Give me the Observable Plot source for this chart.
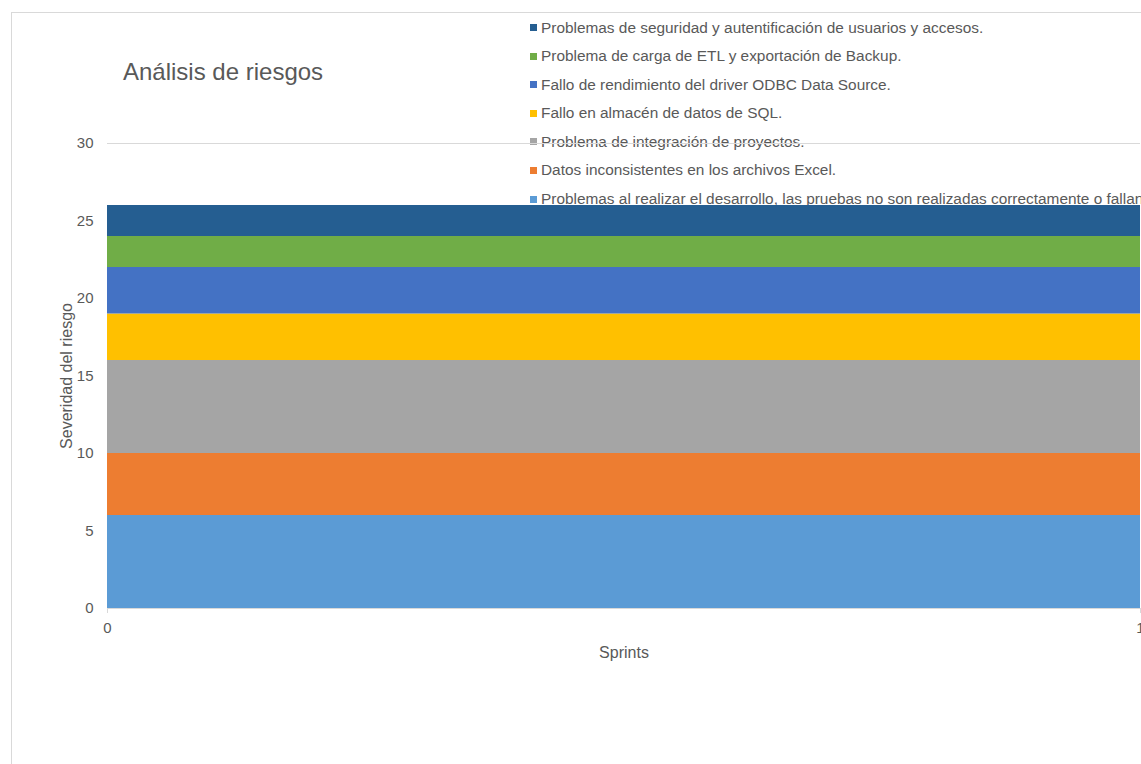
<!DOCTYPE html>
<html>
<head>
<meta charset="utf-8">
<script src="https://cdn.jsdelivr.net/npm/d3@7"></script>
<script src="https://cdn.jsdelivr.net/npm/@observablehq/plot@0.6"></script>
<style>
  html, body { margin: 0; padding: 0; background: #fff; overflow: hidden; width: 1141px; height: 764px; }
  #wrap { position: relative; width: 1141px; height: 764px; overflow: hidden; font-family: "Liberation Sans", Arial, sans-serif; }
  #frame { position: absolute; left: 11px; top: 12px; width: 1300px; height: 900px; border: 1px solid #d9d9d9; box-sizing: border-box; }
  #title { position: absolute; left: 123px; top: 60px; font-size: 24px; line-height: 1; color: #595959; white-space: nowrap; }
  #legend { position: absolute; left: 530px; top: 13.5px; font-size: 15.4px; color: #595959; }
  .item { height: 28.6px; line-height: 28.6px; white-space: nowrap; }
  .sw { display: inline-block; width: 7px; height: 7px; margin-right: 4px; vertical-align: middle; position: relative; top: -1px; }
  #chart { position: absolute; left: 0; top: 0; }
</style>
</head>
<body>
<div id="wrap">
  <div id="frame"></div>
  <div id="title">Análisis de riesgos</div>
  <div id="legend"></div>
  <div id="chart"></div>
</div>
<script>
// Series, bottom to top of the stack
const series = [
  "Problemas al realizar el desarrollo, las pruebas no son realizadas correctamente o fallan",
  "Datos inconsistentes en los archivos Excel.",
  "Problema de integración de proyectos.",
  "Fallo en almacén de datos de SQL.",
  "Fallo de rendimiento del driver ODBC Data Source.",
  "Problema de carga de ETL y exportación de Backup.",
  "Problemas de seguridad y autentificación de usuarios y accesos."
];
const sprints = [0, 1];
const severity = [6, 4, 6, 3, 3, 2, 2];
const colors = ["#5b9bd5", "#ed7d31", "#a5a5a5", "#ffc000", "#4472c4", "#70ad47", "#255e91"];
const yTicks = [0, 5, 10, 15, 20, 25, 30];
const xTicks = [0, 1];

const data = [];
series.forEach((s, i) => {
  sprints.forEach(sp => data.push({sprint: sp, serie: s, value: severity[i]}));
});

const chart = Plot.plot({
  width: 1141,
  height: 764,
  marginLeft: 107,
  marginRight: 1,
  marginTop: 143,
  marginBottom: 156,
  style: {fontFamily: "'Liberation Sans', Arial, sans-serif", fontSize: "15px", color: "#595959", background: "transparent", overflow: "visible"},
  x: {domain: [0, 1]},
  y: {domain: [0, 30]},
  color: {domain: series, range: colors},
  marks: [
    Plot.ruleY(yTicks, {stroke: "#d9d9d9", strokeWidth: 1}),
    Plot.areaY(data, {x: "sprint", y: "value", z: "serie", fill: "serie", order: null}),
    Plot.ruleY([0], {stroke: "#d9d9d9", strokeWidth: 1}),
    Plot.axisY({ticks: yTicks, tickSize: 0, tickPadding: 14, label: null, fill: "#595959", fontSize: 15}),
    Plot.axisX({ticks: xTicks, tickFormat: d3.format("d"), tickSize: 5, tickPadding: 9, stroke: "#d9d9d9", label: null, fill: "#595959", fontSize: 15}),
    Plot.text(["Severidad del riesgo"], {frameAnchor: "left", textAnchor: "middle", dx: -41, rotate: -90, fill: "#595959", fontSize: 16}),
    Plot.text(["Sprints"], {x: 0.5, y: 0, dy: 44, fill: "#595959", fontSize: 16})
  ]
});
document.getElementById("chart").appendChild(chart);

const legend = document.getElementById("legend");
for (let i = series.length - 1; i >= 0; i--) {
  const row = document.createElement("div");
  row.className = "item";
  const sw = document.createElement("span");
  sw.className = "sw";
  sw.style.background = colors[i];
  const t = document.createElement("span");
  t.textContent = series[i];
  row.appendChild(sw);
  row.appendChild(t);
  legend.appendChild(row);
}
</script>
</body>
</html>
